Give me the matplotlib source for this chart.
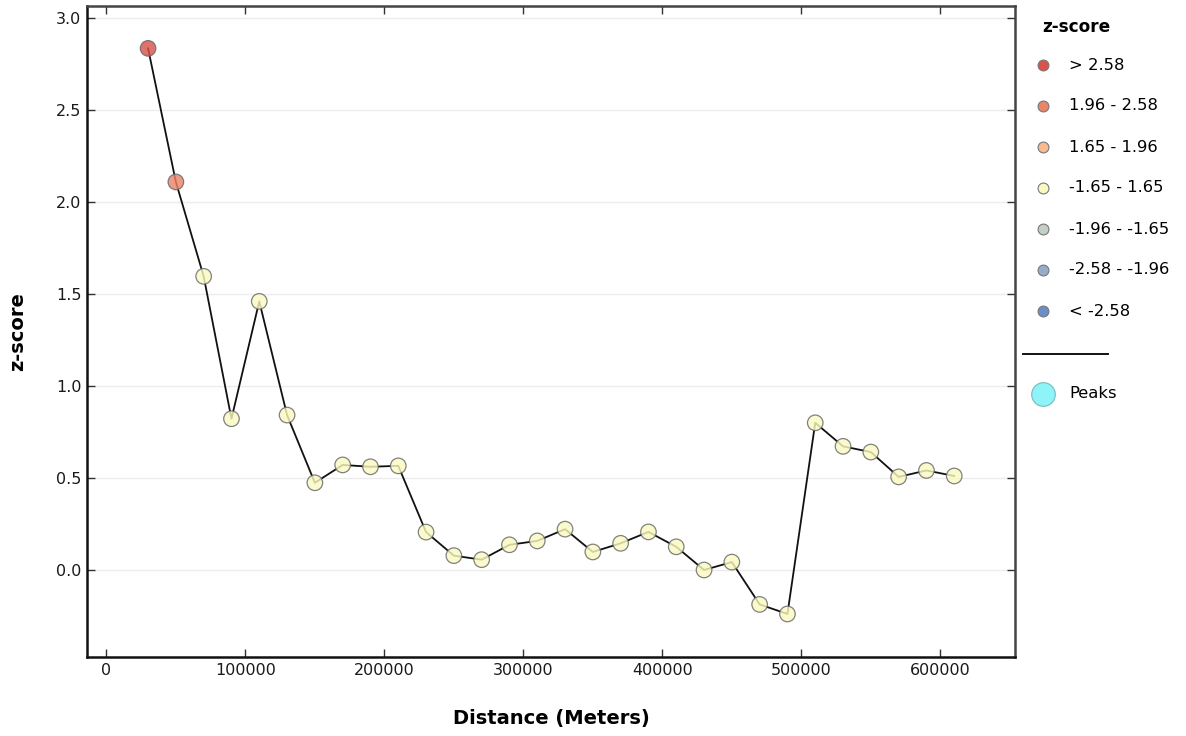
import matplotlib
matplotlib.use("Agg")
import matplotlib.pyplot as plt
from matplotlib.lines import Line2D

# Incremental spatial autocorrelation: z-score by distance band
distance = [30000, 50000, 70000, 90000, 110000, 130000, 150000, 170000, 190000, 210000,
            230000, 250000, 270000, 290000, 310000, 330000, 350000, 370000, 390000, 410000,
            430000, 450000, 470000, 490000, 510000, 530000, 550000, 570000, 590000, 610000]
zscore = [2.835, 2.109, 1.596, 0.822, 1.460, 0.842, 0.474, 0.571, 0.561, 0.566,
          0.206, 0.078, 0.056, 0.137, 0.158, 0.222, 0.098, 0.145, 0.207, 0.126,
          0.000, 0.043, -0.187, -0.239, 0.800, 0.672, 0.641, 0.506, 0.541, 0.511]

bin_labels = ["> 2.58", "1.96 - 2.58", "1.65 - 1.96", "-1.65 - 1.65",
              "-1.96 - -1.65", "-2.58 - -1.96", "< -2.58"]
bin_colors = ["#d9534c", "#eb8469", "#f6bb90", "#fbf9c2",
              "#c3cec4", "#97abca", "#6a8ec6"]
peak_color = "#8ef4f8"

yticks = [0.0, 0.5, 1.0, 1.5, 2.0, 2.5, 3.0]
xticks = [0, 100000, 200000, 300000, 400000, 500000, 600000]


def bin_color(z):
    if z > 2.58:
        return bin_colors[0]
    if z > 1.96:
        return bin_colors[1]
    if z > 1.65:
        return bin_colors[2]
    if z >= -1.65:
        return bin_colors[3]
    if z >= -1.96:
        return bin_colors[4]
    if z >= -2.58:
        return bin_colors[5]
    return bin_colors[6]


fig = plt.figure(figsize=(11.86, 7.36), dpi=100)
ax = fig.add_axes([0.0734, 0.1073, 0.7824, 0.8845])

ax.plot(distance, zscore, color="#111111", lw=1.3, zorder=2)
ax.scatter(distance, zscore, s=125, c=[bin_color(z) for z in zscore],
           edgecolors="#666666", linewidths=0.9, alpha=0.82, zorder=3)

ax.set_xlim(-13900, 653700)
ax.set_ylim(-0.473, 3.065)
ax.set_xticks(xticks)
ax.set_xticklabels([str(t) for t in xticks])
ax.set_yticks(yticks)
ax.set_yticklabels([f"{t:.1f}" for t in yticks])
ax.yaxis.grid(True, color="#ececec", lw=1.0)
ax.set_axisbelow(True)

ax.tick_params(direction="in", length=6, width=1, labelsize=11.5, colors="#333333",
               labelcolor="#1a1a1a", top=True, right=True, pad=4)
ax.tick_params(axis="y", labelright=False)
for side in ("left", "bottom"):
    ax.spines[side].set_color("#111111")
    ax.spines[side].set_linewidth(1.8)
for side in ("top", "right"):
    ax.spines[side].set_color("#444444")
    ax.spines[side].set_linewidth(1.8)

ax.set_xlabel("Distance (Meters)", fontsize=14, fontweight="bold", va="center")
ax.xaxis.set_label_coords(0.5, -0.0937)
ax.set_ylabel("z-score", fontsize=14, fontweight="bold", va="center")
ax.yaxis.set_label_coords(-0.0744, 0.5)

# Legend drawn in figure pixels on the right side
W, H = 1186, 736


def fx(px):
    return px / W


def fy(py):
    return 1 - py / H


fig.text(fx(1076), fy(27), "z-score", fontsize=12.2, fontweight="bold",
         ha="center", va="center")
for i, (lab, col) in enumerate(zip(bin_labels, bin_colors)):
    y = 65 + 41 * i
    fig.add_artist(Line2D([fx(1043)], [fy(y)], transform=fig.transFigure, marker="o",
                          markersize=7.8, markerfacecolor=col, markeredgecolor="#777777",
                          markeredgewidth=0.8, linestyle="none"))
    fig.text(fx(1069), fy(y), lab, fontsize=11.8, ha="left", va="center")

fig.add_artist(Line2D([fx(1023), fx(1108)], [fy(354), fy(354)],
                      transform=fig.transFigure, color="#111111", lw=1.4))
fig.add_artist(Line2D([fx(1043)], [fy(394)], transform=fig.transFigure, marker="o",
                      markersize=17, markerfacecolor=peak_color, markeredgecolor="#7ab8ba",
                      markeredgewidth=0.8, linestyle="none"))
fig.text(fx(1069), fy(394), "Peaks", fontsize=11.8, ha="left", va="center")

fig.savefig("out.png", dpi=100)
